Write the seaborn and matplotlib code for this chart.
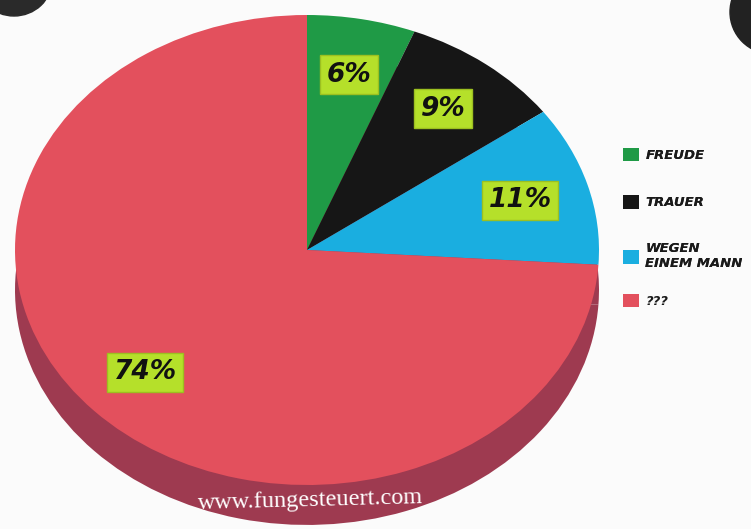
import matplotlib
matplotlib.use("Agg")
import matplotlib.pyplot as plt
import seaborn as sns
from matplotlib.patches import Ellipse, Patch

# ---- data ----
categories = ["FREUDE", "TRAUER", "WEGEN\nEINEM MANN", "???"]
values = [6, 9, 11, 74]
face_colors = ["#1f9a46", "#161616", "#1aaee0", "#e3505d"]
rim_colors = ["#9e3a50", "#9e3a50", "#9e3a50", "#9e3a50"]
watermark = "www.fungesteuert.com"

sns.set_theme(style="white")
plt.rcParams["font.family"] = ["DejaVu Sans"]

W, H = 751, 529
fig = plt.figure(figsize=(W / 100, H / 100), dpi=100)
fig.patch.set_facecolor("#fbfbfb")

# background axes in pixel coords for decorations
bg = fig.add_axes([0, 0, 1, 1])
bg.set_xlim(0, W)
bg.set_ylim(H, 0)
bg.axis("off")
bg.add_patch(Ellipse((14, -20), 76, 72, color="#2a2a2a"))
bg.add_patch(Ellipse((772, 12), 84, 84, color="#222222"))

# pie axes: face ellipse centre (307, 250), rx 292, ry 235
cx, cy, rx, ry = 307, 250, 292, 235
left = (cx - rx) / W
width = 2 * rx / W
top_px = cy - ry
ax = fig.add_axes([left, 0, width, (H - top_px) / H])
ax.patch.set_alpha(0)

# 3D rim: the same pie, darker, shifted down
ax.pie(values, colors=rim_colors, startangle=90, counterclock=False,
       radius=1.0, center=(0, -0.17), wedgeprops=dict(linewidth=0))

wedges, texts, autotexts = ax.pie(
    values, colors=face_colors, startangle=90, counterclock=False,
    radius=1.0, center=(0, 0),
    autopct=lambda p: f"{p:.0f}%", pctdistance=0.76,
    wedgeprops=dict(linewidth=0),
    textprops=dict(fontsize=19, fontweight="bold", fontstyle="italic",
                   color="#111111"))
for t in autotexts:
    t.set_bbox(dict(boxstyle="square,pad=0.25", facecolor="#b5e02a",
                    edgecolor="#9cc020", linewidth=1))

ax.set_aspect("auto")
ax.set_xlim(-1, 1)
ax.set_ylim(1 - (H - top_px) / ry, 1)
ax.axis("off")

# watermark on the rim
ax.text(0.01, -1.065, watermark, ha="center", va="center", color="white",
        fontsize=17.5, family=["Liberation Serif", "DejaVu Serif"],
        rotation=1.5)

# legend (two blocks so that "???" sits close under the two-line entry)
handles = [Patch(facecolor=c, edgecolor="none") for c in face_colors]
lprop = dict(size=9.5, weight="bold", style="italic")
common = dict(loc="upper left", frameon=False, handlelength=1.2,
              handleheight=1.2, handletextpad=0.5, prop=lprop)
leg1 = fig.legend(handles[:3], categories[:3],
                  bbox_to_anchor=(611 / W, 1 - 136 / H),
                  labelspacing=2.5, **common)
leg2 = fig.legend(handles[3:], categories[3:],
                  bbox_to_anchor=(611 / W, 1 - 282 / H), **common)
fig.add_artist(leg1)
for lg in (leg1, leg2):
    for t in lg.get_texts():
        t.set_color("#1a1a1a")

fig.savefig("out.png", dpi=100, facecolor=fig.get_facecolor())
